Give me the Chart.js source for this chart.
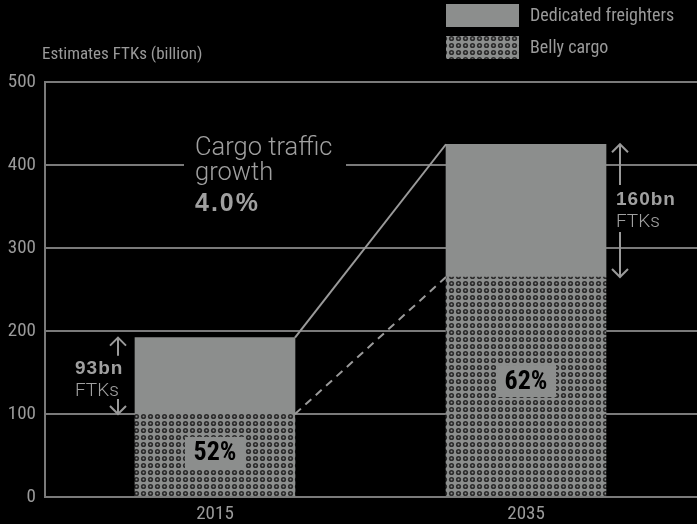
<!DOCTYPE html>
<html>
<head>
<meta charset="utf-8">
<script src="https://cdn.jsdelivr.net/npm/chart.js@4.4.0/dist/chart.umd.min.js"></script>
<style>
html,body{margin:0;padding:0;background:#000;}
#wrap{width:697px;height:524px;position:relative;}
</style>
</head>
<body>
<div id="wrap"><canvas id="c" width="697" height="524"></canvas></div>
<script>
// ---- data ----
const categories = ['2015', '2035'];
const bellyCargo = [100, 265];
const dedicatedFreighters = [92, 160];
const yTicks = [0, 100, 200, 300, 400, 500];
const shareLabels = ['52%', '62%'];
const freighterLabels = ['93bn', '160bn'];
const seriesNames = ['Dedicated freighters', 'Belly cargo'];
const axisTitle = 'Estimates FTKs (billion)';
const growthText = ['Cargo traffic', 'growth', '4.0%'];
const unitText = 'FTKs';

const NARROW = '"Roboto Condensed", Roboto, sans-serif';
const TEXT = '#9a9a9a';
const BAR = '#8c8e8d';
const GRID = '#7a7a7a';

function makePattern() {
  const p = document.createElement('canvas');
  p.width = 7; p.height = 7;
  const g = p.getContext('2d');
  g.fillStyle = BAR; g.fillRect(0, 0, 7, 7);
  g.fillStyle = '#2b2b2b';
  g.beginPath(); g.arc(3.5, 3.5, 2.6, 0, Math.PI * 2); g.fill();
  g.fillStyle = '#8a8a8a';
  g.beginPath(); g.arc(3.5, 3.5, 1.0, 0, Math.PI * 2); g.fill();
  return document.getElementById('c').getContext('2d').createPattern(p, 'repeat');
}
const pattern = makePattern();

function arrow(ctx, x, yTip, yEnd) {
  const dir = yEnd > yTip ? 1 : -1;
  ctx.beginPath();
  ctx.moveTo(x, yTip); ctx.lineTo(x, yEnd);
  ctx.moveTo(x - 8, yTip + dir * 8); ctx.lineTo(x, yTip); ctx.lineTo(x + 8, yTip + dir * 8);
  ctx.stroke();
}

const overlay = {
  id: 'overlay',
  afterDatasetsDraw(chart) {
    const ctx = chart.ctx;
    const belly = chart.getDatasetMeta(0).data;
    const fr = chart.getDatasetMeta(1).data;
    ctx.save();
    // connecting lines
    ctx.strokeStyle = '#9a9a9a';
    ctx.lineWidth = 2;
    const r0 = fr[0].x + fr[0].width / 2, l1 = fr[1].x - fr[1].width / 2;
    ctx.beginPath(); ctx.moveTo(r0, fr[0].y); ctx.lineTo(l1, fr[1].y); ctx.stroke();
    ctx.setLineDash([8, 6]);
    ctx.beginPath(); ctx.moveTo(r0, belly[0].y); ctx.lineTo(l1, belly[1].y); ctx.stroke();
    ctx.setLineDash([]);

    // share labels
    for (let i = 0; i < belly.length; i++) {
      const b = belly[i];
      const cy = b.base - (b.base - b.y) * 0.525;
      ctx.fillStyle = BAR;
      ctx.fillRect(b.x - 30, cy - 16, 60, 32);
      ctx.fillStyle = '#000';
      ctx.font = 'bold 26px ' + NARROW;
      ctx.textAlign = 'center'; ctx.textBaseline = 'middle';
      ctx.fillText(shareLabels[i], b.x, cy + 1);
    }

    // growth annotation
    ctx.fillStyle = '#000';
    ctx.fillRect(184, 128, 162, 88);
    ctx.fillStyle = '#a0a0a0';
    ctx.textAlign = 'left'; ctx.textBaseline = 'alphabetic';
    ctx.font = '300 25.5px Roboto, "Liberation Sans", sans-serif';
    ctx.fillText(growthText[0], 195, 155);
    ctx.fillText(growthText[1], 195, 180);
    ctx.font = 'bold 25px "Liberation Sans", Roboto, sans-serif';
    ctx.letterSpacing = '2px';
    ctx.fillText(growthText[2], 195, 211);

    // freighter size annotations
    ctx.strokeStyle = '#9a9a9a'; ctx.lineWidth = 2;
    arrow(ctx, 118, fr[0].y, fr[0].y + 18);
    arrow(ctx, 118, belly[0].y, belly[0].y - 15);
    ctx.fillStyle = '#a0a0a0';
    ctx.letterSpacing = '1px';
    ctx.font = 'bold 19px "Liberation Sans", Roboto, sans-serif';
    ctx.fillText(freighterLabels[0], 75, 374);
    ctx.letterSpacing = '0px';
    ctx.font = '300 19px Roboto, "Liberation Sans", sans-serif';
    ctx.fillText(unitText, 75, 396);
    arrow(ctx, 620, fr[1].y, 185);
    arrow(ctx, 620, belly[1].y, 232);
    ctx.letterSpacing = '1px';
    ctx.font = 'bold 19px "Liberation Sans", Roboto, sans-serif';
    ctx.fillText(freighterLabels[1], 616, 205);
    ctx.letterSpacing = '0px';
    ctx.font = '300 19px Roboto, "Liberation Sans", sans-serif';
    ctx.fillText(unitText, 616, 227);

    // axis title
    ctx.font = '17px ' + NARROW;
    ctx.fillStyle = TEXT;
    ctx.fillText(axisTitle, 42, 59);

    // legend
    const items = [{ fill: BAR, label: seriesNames[0], y: 4 }, { fill: pattern, label: seriesNames[1], y: 36 }];
    ctx.font = '18px ' + NARROW;
    ctx.textBaseline = 'middle';
    items.forEach(it => {
      ctx.fillStyle = it.fill;
      ctx.fillRect(446, it.y, 73, 23);
      ctx.fillStyle = TEXT;
      ctx.fillText(it.label, 530, it.y + 12);
    });
    ctx.restore();
  }
};

new Chart(document.getElementById('c'), {
  type: 'bar',
  data: {
    datasets: [
      { label: seriesNames[1], data: bellyCargo.map((v, i) => ({ x: i, y: v })), backgroundColor: pattern, barThickness: 160, borderWidth: 0 },
      { label: seriesNames[0], data: dedicatedFreighters.map((v, i) => ({ x: i, y: v })), backgroundColor: BAR, barThickness: 160, borderWidth: 0 }
    ]
  },
  options: {
    responsive: false,
    animation: false,
    layout: { padding: { top: 82, left: 0, right: 0, bottom: 0 } },
    plugins: { legend: { display: false }, tooltip: { enabled: false } },
    scales: {
      x: {
        type: 'linear', stacked: true, min: -0.5466, max: 1.5498, offset: false,
        grid: { display: false, offset: false, drawTicks: false }, border: { display: false },
        afterBuildTicks: s => { s.ticks = categories.map((c, i) => ({ value: i })); },
        afterFit: s => { s.height = 27; },
        ticks: { callback: v => categories[v], color: TEXT, font: { family: NARROW, size: 19, lineHeight: 1 }, padding: 8, maxRotation: 0 }
      },
      y: {
        stacked: true, min: 0, max: 500,
        afterBuildTicks: s => { s.ticks = yTicks.map(v => ({ value: v })); },
        afterFit: s => { s.width = 45; },
        grid: { color: GRID, lineWidth: 2, drawTicks: false },
        border: { display: true, color: GRID, width: 2 },
        ticks: { color: TEXT, font: { family: NARROW, size: 19 }, padding: 9 }
      }
    }
  },
  plugins: [overlay]
});
</script>
</body>
</html>
